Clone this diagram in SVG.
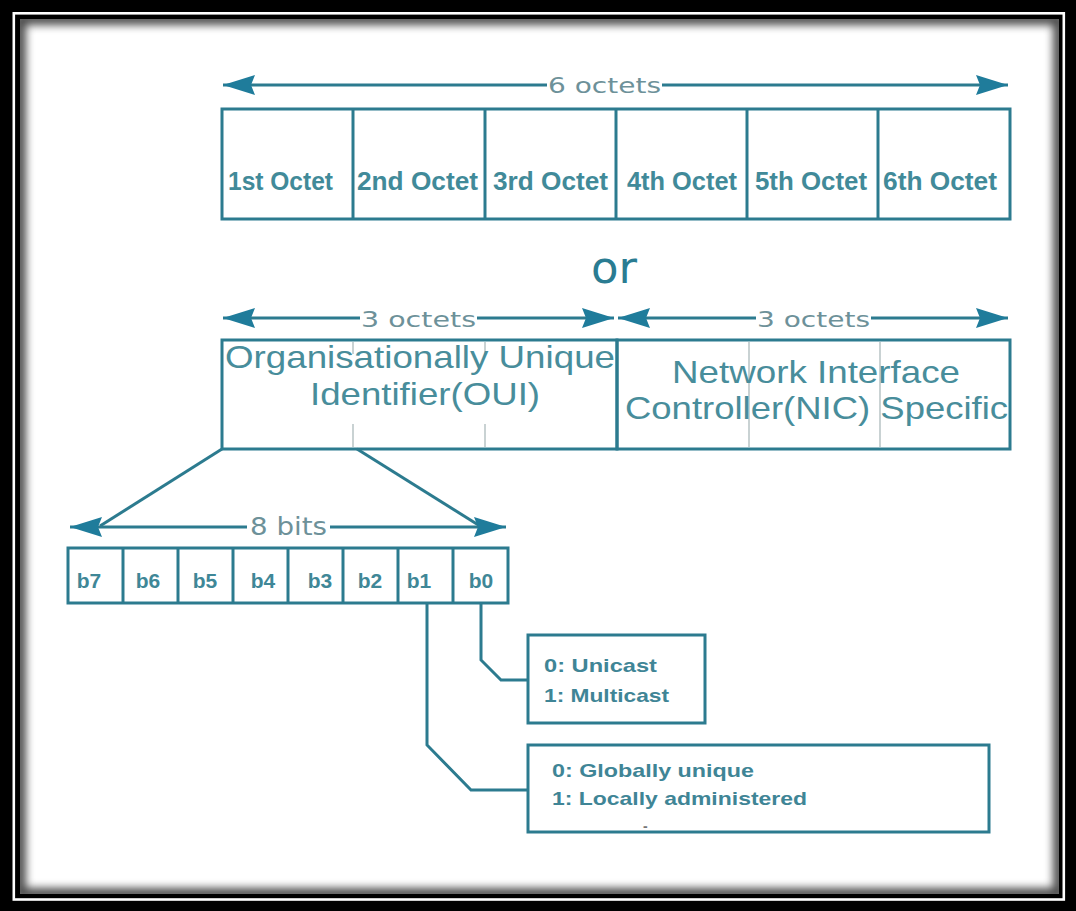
<svg xmlns="http://www.w3.org/2000/svg" width="1076" height="911" viewBox="0 0 1076 911">
  <defs>
    <style>
      .box { fill: none; stroke: #2c7b8f; stroke-width: 3; }
      .div { stroke: #2c7b8f; stroke-width: 3; }
      .faint { stroke: #c9d2d3; stroke-width: 2; }
      .wire { fill: none; stroke: #2c7b8f; stroke-width: 3; }
      .dim { stroke: #2c7b8f; stroke-width: 3; }
      .cell { font-family: "Liberation Sans", Arial, sans-serif; font-weight: bold; font-size: 26px; fill: #418a99; }
      .big { font-family: "Liberation Sans", Arial, sans-serif; font-size: 32px; fill: #488d9b; }
      .dimtxt { font-family: "DejaVu Sans", "Liberation Sans", sans-serif; font-size: 22px; fill: #6d9199; }
      .bit { font-family: "Liberation Sans", Arial, sans-serif; font-weight: bold; font-size: 21px; fill: #3f8797; text-anchor: middle; }
      .note { font-family: "Liberation Sans", Arial, sans-serif; font-weight: bold; font-size: 19px; fill: #3f8596; }
      .or { font-family: "DejaVu Sans", "Liberation Sans", sans-serif; font-size: 45px; fill: #2a7c92; text-anchor: middle; }
    </style>
    <marker id="head" viewBox="0 0 32 20" refX="32" refY="10" markerWidth="32" markerHeight="20" markerUnits="userSpaceOnUse" orient="auto-start-reverse">
      <path d="M0,0 L32,10 L0,20 L4,10 Z" fill="#1f7c9b"/>
    </marker>
    <filter id="soft" x="-5%" y="-5%" width="110%" height="110%">
      <feGaussianBlur stdDeviation="4"/>
    </filter>
    <clipPath id="inner">
      <rect x="20" y="19" width="1039" height="875"/>
    </clipPath>
  </defs>

  <!-- picture frame: black mat, thin white rule, inset shadow -->
  <g id="frame">
    <rect x="0" y="0" width="1076" height="911" fill="#000"/>
    <rect x="13.8" y="13.3" width="1050" height="886.2" fill="none" stroke="#fff" stroke-width="2.6"/>
    <rect x="20" y="19" width="1039" height="875" fill="#fff"/>
    <g clip-path="url(#inner)">
      <rect x="20" y="19" width="1039" height="875" fill="none" stroke="#000" stroke-width="12" opacity="0.7" filter="url(#soft)"/>
    </g>
  </g>

  <!-- six octet row -->
  <g id="octets">
    <rect class="box" x="222" y="109" width="788" height="110"/>
    <line class="div" x1="353" y1="109" x2="353" y2="219"/>
    <line class="div" x1="485" y1="109" x2="485" y2="219"/>
    <line class="div" x1="616" y1="109" x2="616" y2="219"/>
    <line class="div" x1="747" y1="109" x2="747" y2="219"/>
    <line class="div" x1="878" y1="109" x2="878" y2="219"/>
    <text class="cell" x="228" y="190" textLength="105" lengthAdjust="spacingAndGlyphs">1st Octet</text>
    <text class="cell" x="357" y="190" textLength="121" lengthAdjust="spacingAndGlyphs">2nd Octet</text>
    <text class="cell" x="493" y="190" textLength="115" lengthAdjust="spacingAndGlyphs">3rd Octet</text>
    <text class="cell" x="627" y="190" textLength="110" lengthAdjust="spacingAndGlyphs">4th Octet</text>
    <text class="cell" x="755" y="190" textLength="112" lengthAdjust="spacingAndGlyphs">5th Octet</text>
    <text class="cell" x="883" y="190" textLength="114" lengthAdjust="spacingAndGlyphs">6th Octet</text>
  </g>

  <g id="or">
    <text class="or" x="614" y="283">or</text>
  </g>

  <!-- OUI half -->
  <g id="oui">
    <rect class="box" x="222" y="340" width="395" height="109"/>
    <line class="faint" x1="353" y1="342" x2="353" y2="354"/>
    <line class="faint" x1="353" y1="424" x2="353" y2="447"/>
    <line class="faint" x1="485" y1="342" x2="485" y2="354"/>
    <line class="faint" x1="485" y1="424" x2="485" y2="447"/>
    <text class="big" x="225" y="368" textLength="390" lengthAdjust="spacingAndGlyphs">Organisationally Unique</text>
    <text class="big" x="310" y="405" textLength="230" lengthAdjust="spacingAndGlyphs">Identifier(OUI)</text>
  </g>

  <!-- NIC specific half -->
  <g id="nic">
    <line class="faint" x1="749" y1="342" x2="749" y2="447"/>
    <line class="faint" x1="880" y1="342" x2="880" y2="447"/>
    <rect class="box" x="617" y="340" width="393" height="109"/>
    <text class="big" x="672" y="383" textLength="288" lengthAdjust="spacingAndGlyphs">Network Interface</text>
    <text class="big" x="625" y="419" textLength="383" lengthAdjust="spacingAndGlyphs">Controller(NIC) Specific</text>
  </g>

  <!-- first octet bits -->
  <g id="bits">
    <rect class="box" x="68" y="548" width="440" height="55"/>
    <line class="div" x1="123" y1="548" x2="123" y2="603"/>
    <line class="div" x1="178" y1="548" x2="178" y2="603"/>
    <line class="div" x1="233" y1="548" x2="233" y2="603"/>
    <line class="div" x1="288" y1="548" x2="288" y2="603"/>
    <line class="div" x1="343" y1="548" x2="343" y2="603"/>
    <line class="div" x1="398" y1="548" x2="398" y2="603"/>
    <line class="div" x1="453" y1="548" x2="453" y2="603"/>
    <text class="bit" x="89" y="588">b7</text>
    <text class="bit" x="148" y="588">b6</text>
    <text class="bit" x="205" y="588">b5</text>
    <text class="bit" x="263" y="588">b4</text>
    <text class="bit" x="320" y="588">b3</text>
    <text class="bit" x="370" y="588">b2</text>
    <text class="bit" x="419" y="588">b1</text>
    <text class="bit" x="481" y="588">b0</text>
  </g>

  <g id="castBox">
    <rect class="box" x="528" y="635" width="177" height="88"/>
    <text class="note" x="544" y="672" textLength="113" lengthAdjust="spacingAndGlyphs">0: Unicast</text>
    <text class="note" x="544" y="702" textLength="125" lengthAdjust="spacingAndGlyphs">1: Multicast</text>
  </g>

  <g id="adminBox">
    <rect class="box" x="528" y="745" width="461" height="87"/>
    <text class="note" x="552" y="777" textLength="202" lengthAdjust="spacingAndGlyphs">0: Globally unique</text>
    <text class="note" x="552" y="805" textLength="255" lengthAdjust="spacingAndGlyphs">1: Locally administered</text>
    <text class="note" x="643" y="831" style="fill:#777;font-size:14px">-</text>
  </g>

  <!-- dimension arrows and connectors -->
  <g id="connectors">
    <line class="dim" x1="547" y1="85" x2="223" y2="85" marker-end="url(#head)"/>
    <line class="dim" x1="662" y1="85" x2="1008" y2="85" marker-end="url(#head)"/>
    <text class="dimtxt" x="548" y="93" textLength="113" lengthAdjust="spacingAndGlyphs">6 octets</text>

    <line class="dim" x1="360" y1="318" x2="223" y2="318" marker-end="url(#head)"/>
    <line class="dim" x1="477" y1="318" x2="614" y2="318" marker-end="url(#head)"/>
    <text class="dimtxt" x="361" y="327" textLength="115" lengthAdjust="spacingAndGlyphs">3 octets</text>

    <line class="dim" x1="756" y1="318" x2="618" y2="318" marker-end="url(#head)"/>
    <line class="dim" x1="871" y1="318" x2="1008" y2="318" marker-end="url(#head)"/>
    <text class="dimtxt" x="757" y="327" textLength="113" lengthAdjust="spacingAndGlyphs">3 octets</text>

    <line class="wire" x1="222" y1="449" x2="100" y2="526"/>
    <line class="wire" x1="357" y1="449" x2="480" y2="526"/>

    <line class="dim" x1="247" y1="527" x2="70" y2="527" marker-end="url(#head)"/>
    <line class="dim" x1="330" y1="527" x2="506" y2="527" marker-end="url(#head)"/>
    <text class="dimtxt" x="250" y="535" textLength="77" lengthAdjust="spacingAndGlyphs" style="font-size:24px">8 bits</text>

    <path class="wire" d="M481,603 V660 L501,680 H528"/>
    <path class="wire" d="M427,603 V745 L471,790 H528"/>
  </g>
</svg>
